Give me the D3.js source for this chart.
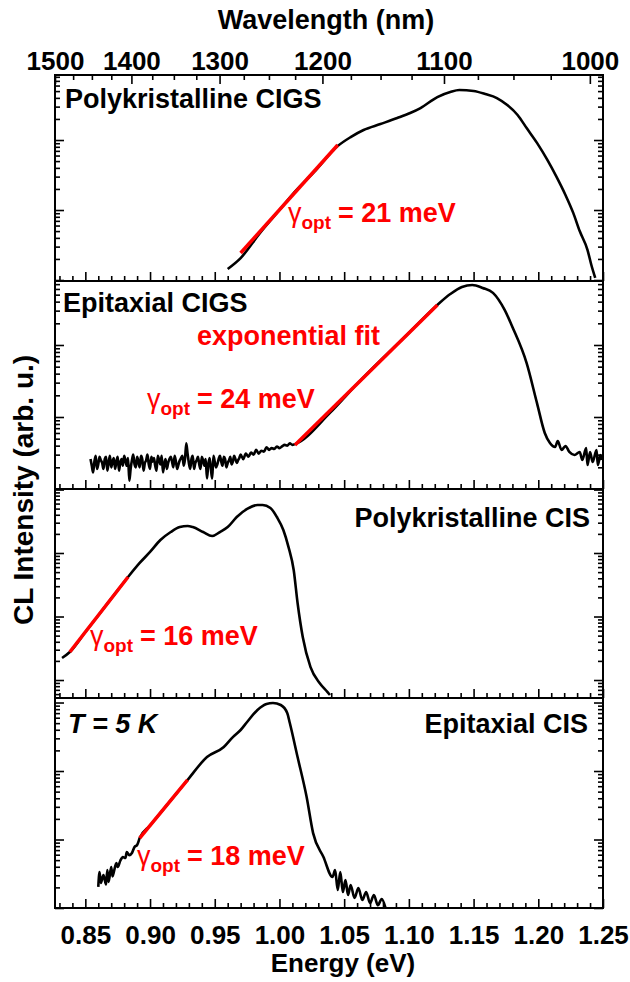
<!DOCTYPE html>
<html><head><meta charset="utf-8">
<script src="https://cdn.jsdelivr.net/npm/d3@7"></script>
<style>
body{margin:0;background:#fff}
svg text{font-family:"Liberation Sans",Arial,sans-serif;font-weight:bold}
</style></head><body>
<svg id="c" width="630" height="982"></svg>
<script>
// ---------------- DATA ----------------
const HC = 1239.84; // eV*nm
const energyMajorTicks = [0.85,0.90,0.95,1.00,1.05,1.10,1.15,1.20,1.25];
const wavelengthMajorTicks = [1500,1400,1300,1200,1100,1000];
const wavelengthMinorTicks = [1475,1450,1425,1375,1350,1325,1275,1250,1225,1175,1150,1125,1075,1050,1025];
const panelNames = ["Polykristalline CIGS","Epitaxial CIGS","Polykristalline CIS","Epitaxial CIS"];
const gammaValues = ["21","24","16","18"];

// [energy eV, CL intensity arb. u.]
const polyCigs = [
 [0.960,1.44],[0.970,2.06],[0.985,4.7],[1.000,10],[1.011,17.5],[1.028,37],[1.045,82],
 [1.055,110],[1.065,139],[1.078,169],[1.091,206],[1.101,243],[1.109,286],[1.122,411],
 [1.132,485],[1.139,518],[1.150,501],[1.159,454],[1.168,398],[1.176,316],[1.184,228],
 [1.191,148],[1.199,91],[1.207,52],[1.214,30],[1.221,16.4],[1.227,9.1],[1.232,5.0],
 [1.238,2.7],[1.241,1.64],[1.244,1.07]
];
const epiCigs = [
 [0.854,2.6],[0.856,1.7],[0.858,2.9],[0.860,2.2],[0.862,2.5],[0.864,1.9],[0.866,2.8],[0.868,2.3],
 [0.870,2.0],[0.872,2.7],[0.874,2.4],[0.876,1.8],[0.878,2.6],[0.880,2.9],[0.882,2.1],[0.884,1.3],
 [0.886,2.5],[0.888,2.2],[0.890,2.8],[0.892,2.0],[0.894,2.6],[0.896,2.3],[0.898,3.0],[0.900,1.9],
 [0.902,2.4],[0.904,2.1],[0.906,2.9],[0.908,2.2],[0.910,1.7],[0.912,2.6],[0.914,2.3],[0.916,2.8],
 [0.918,2.0],[0.920,2.4],[0.922,2.2],[0.924,2.7],[0.926,2.1],[0.928,4.3],[0.930,2.3],[0.932,2.6],
 [0.934,1.9],[0.936,2.5],[0.938,2.2],[0.940,2.8],[0.942,2.1],[0.944,1.4],[0.946,2.7],[0.948,1.4],
 [0.950,2.4],[0.952,2.2],[0.954,2.9],[0.956,2.1],[0.958,2.6],[0.960,2.3],[0.962,2.8],[0.964,2.4],
 [0.966,2.6],[0.968,2.5],[0.970,3.0],[0.972,2.6],[0.974,3.1],[0.976,2.8],[0.978,3.2],[0.980,3.0],
 [0.982,3.5],[0.984,3.1],[0.986,3.4],[0.988,3.3],[0.990,3.8],[0.992,3.5],[0.994,3.7],[0.996,3.6],
 [0.998,3.9],[1.000,3.7],[1.002,3.9],[1.004,4.1],[1.006,4.0],[1.008,4.3],[1.010,4.1],[1.012,4.2],
 [1.039,11.4],[1.060,28.8],[1.080,66],[1.100,147],[1.122,360],[1.132,510],[1.141,640],[1.149,681],
 [1.157,620],[1.165,530],[1.174,307],[1.180,178],[1.191,56],[1.199,15.6],[1.205,6.0],[1.209,4.35],
 [1.213,3.83],[1.215,4.64],[1.218,3.48],[1.221,3.96],[1.224,3.27],[1.228,2.97],[1.232,3.27],
 [1.234,2.53],[1.237,3.71],[1.238,2.15],[1.240,3.27],[1.242,2.37],[1.245,3.48],[1.246,2.15],
 [1.248,2.97],[1.249,2.53]
];
const epiCigsNoiseOdd = [
 [0.855,2.1],[0.857,2.4],[0.859,1.9],[0.861,2.8],[0.863,2.3],[0.865,2.6],[0.867,1.8],[0.869,2.9],
 [0.871,2.4],[0.873,1.9],[0.875,2.8],[0.877,2.3],[0.879,2.1],[0.881,2.5],[0.883,2.7],[0.885,1.9],
 [0.887,3.0],[0.889,2.0],[0.891,2.4],[0.893,2.9],[0.895,1.8],[0.897,2.5],[0.899,2.2],[0.901,2.8],
 [0.903,2.7],[0.905,1.8],[0.907,2.5],[0.909,2.9],[0.911,2.2],[0.913,1.9],[0.915,2.6],[0.917,2.4],
 [0.919,2.9],[0.921,1.9],[0.923,2.5],[0.925,2.9],[0.927,2.6],[0.929,3.1],[0.931,1.9],[0.933,2.9],
 [0.935,2.3],[0.937,2.8],[0.939,1.9],[0.941,2.5],[0.943,2.6],[0.945,2.2],[0.947,1.9],[0.949,2.9],
 [0.951,2.0],[0.953,2.6],[0.955,2.4],[0.957,2.8],[0.959,2.0],[0.961,2.5],[0.963,2.2],[0.965,2.9],
 [0.967,2.3],[0.969,2.7]
];
const polyCis = [
 [0.832,2.22],[0.838,2.76],[0.850,5.7],[0.860,10.4],[0.870,19.1],[0.883,41.9],[0.892,69.7],
 [0.900,104],[0.908,160],[0.916,214],[0.923,256],[0.929,266],[0.933,256],[0.941,214],[0.948,185],
 [0.954,214],[0.960,256],[0.967,369],[0.975,493],[0.983,570],[0.987,570],[0.993,512],[0.998,369],
 [1.003,230],[1.007,124],[1.011,54],[1.014,16.3],[1.018,4.75],[1.024,1.6],[1.031,0.90],[1.037,0.65],[1.039,0.58]
];
const epiCis = [
 [0.860,2.03],[0.861,3.35],[0.862,2.32],[0.864,3.03],[0.866,2.2],[0.867,3.59],[0.868,2.40],
 [0.870,3.97],[0.871,2.9],[0.872,3.35],[0.874,4.54],[0.875,3.97],[0.877,4.9],[0.879,5.55],
 [0.881,5.37],[0.882,6.57],[0.884,5.9],[0.886,6.35],[0.888,7.77],[0.890,8.31],[0.892,10.5],
 [0.900,16.0],[0.910,27.1],[0.920,46],[0.929,74],[0.944,160],[0.957,224],[0.964,313],[0.970,397],
 [0.975,519],[0.983,778],[0.990,951],[0.995,984],[1.001,920],[1.006,703],[1.008,502],[1.014,160],
 [1.021,41.7],[1.026,12.4],[1.034,5.55],[1.041,2.84],[1.043,3.59],[1.045,1.83],[1.047,3.35],[1.049,1.71],
 [1.051,2.56],[1.053,1.55],[1.055,2.17],[1.058,1.40],[1.061,1.96],[1.064,1.31],[1.067,1.71],
 [1.070,1.18],[1.073,1.55],[1.076,1.1],[1.079,1.35],[1.082,1.0]
];
// exponential fit segments [energy, intensity]
const fitPolyCigs = [[0.970,2.43],[1.045,85]];
const fitEpiCigs  = [[1.012,4.08],[1.122,360]];
const fitPolyCis  = [[0.838,2.76],[0.883,41.9]];
const fitEpiCis   = [[0.892,10.5],[0.929,74]];

// ---------------- LAYOUT ----------------
const svg = d3.select("#c");
const L = 55, R = 603;
const x = d3.scaleLinear().domain([HC/1500, 1.25]).range([L, R]);
const bounds = [75, 281, 489, 698, 908];
const epiCigsAll = d3.sort(epiCigs.concat(epiCigsNoiseOdd), d => d[0]);
const panels = [
 {data: polyCigs, fit: fitPolyCigs, domain:[0.968, 849], name: panelNames[0], nameX:65, nameY:108, anchor:"start",
  g: gammaValues[0], gx:288, gy:222},
 {data: epiCigsAll, fit: fitEpiCigs, domain:[1, 774], name: panelNames[1], nameX:63, nameY:312, anchor:"start",
  g: gammaValues[1], gx:147, gy:408},
 {data: polyCis, fit: fitPolyCis, domain:[0.521, 1018], name: panelNames[2], nameX:590, nameY:527, anchor:"end",
  g: gammaValues[2], gx:90, gy:645},
 {data: epiCis, fit: fitEpiCis, domain:[1, 1164], name: panelNames[3], nameX:588, nameY:733, anchor:"end",
  g: gammaValues[3], gx:137, gy:865}
];
const isDecade = v => Math.abs(Math.log10(v) - Math.round(Math.log10(v))) < 1e-6;
const styleAxis = sel => { sel.select(".domain").remove(); sel.selectAll("line").attr("stroke","#000").attr("stroke-width",1.6); };

panels.forEach((p, i) => {
  const top = bounds[i], bottom = bounds[i+1];
  const y = d3.scaleLog().domain(p.domain).range([bottom, top]);
  const g = svg.append("g");
  const cid = "clip" + i;
  svg.append("clipPath").attr("id", cid).append("rect").attr("x", L).attr("y", top).attr("width", R-L).attr("height", bottom-top);

  const yt = y.ticks();
  const yMaj = yt.filter(isDecade), yMin = yt.filter(v => !isDecade(v));
  g.append("g").attr("transform",`translate(${L},0)`).call(d3.axisLeft(y).tickValues(yMaj).tickSize(-9).tickFormat("")).call(styleAxis);
  g.append("g").attr("transform",`translate(${L},0)`).call(d3.axisLeft(y).tickValues(yMin).tickSize(-5).tickFormat("")).call(styleAxis);
  g.append("g").attr("transform",`translate(${R},0)`).call(d3.axisRight(y).tickValues(yMaj).tickSize(-9).tickFormat("")).call(styleAxis);
  g.append("g").attr("transform",`translate(${R},0)`).call(d3.axisRight(y).tickValues(yMin).tickSize(-5).tickFormat("")).call(styleAxis);

  const last = i === panels.length - 1;
  const xb = g.append("g").attr("transform",`translate(0,${bottom})`)
    .call(d3.axisBottom(x).tickValues(energyMajorTicks).tickSize(-9).tickPadding(18)
      .tickFormat(last ? d3.format(".2f") : ""))
    .call(styleAxis);
  xb.selectAll("text").attr("font-size",26).attr("fill","#000").attr("font-family",null);
  g.append("g").attr("transform",`translate(0,${bottom})`)
    .call(d3.axisBottom(x).tickValues(x.ticks(42).filter(v => !energyMajorTicks.some(m => Math.abs(m-v)<1e-6))).tickSize(-5).tickFormat(""))
    .call(styleAxis);

  // data
  const line = d3.line().x(d => x(d[0])).y(d => y(d[1])).curve(d3.curveMonotoneX);
  g.append("path").attr("clip-path",`url(#${cid})`).attr("d", line(p.data))
    .attr("fill","none").attr("stroke","#000").attr("stroke-width",2.6).attr("stroke-linejoin","round");
  g.append("path").attr("d", d3.line().x(d => x(d[0])).y(d => y(d[1]))(p.fit))
    .attr("fill","none").attr("stroke","#ff0000").attr("stroke-width",3.5);

  g.append("rect").attr("x", L).attr("y", top).attr("width", R-L).attr("height", bottom-top)
    .attr("fill","none").attr("stroke","#000").attr("stroke-width",2);

  // labels
  g.append("text").attr("x", p.nameX).attr("y", p.nameY).attr("text-anchor", p.anchor)
    .attr("font-size", 27).text(p.name);
  const gt = g.append("text").attr("x", p.gx).attr("y", p.gy).attr("fill","#ff0000").attr("font-size",27);
  gt.append("tspan").attr("font-weight","normal").text("γ");
  gt.append("tspan").attr("font-size",19).attr("dy",7).text("opt");
  gt.append("tspan").attr("dy",-7).attr("dx",7).text("= " + p.g + " meV");
});

// extra annotations
svg.append("text").attr("x",197).attr("y",345).attr("fill","#ff0000").attr("font-size",27).text("exponential fit");
svg.append("text").attr("x",68).attr("y",733).attr("font-size",27).attr("font-style","italic").text("T = 5 K");

// top wavelength axis
const xt = svg.append("g").attr("transform",`translate(0,${bounds[0]})`)
  .call(d3.axisTop(x).tickValues(wavelengthMajorTicks.map(l => HC/l)).tickSize(-9).tickPadding(5)
    .tickFormat(e => Math.round(HC/e)))
  .call(styleAxis);
xt.selectAll("text").attr("font-size",26).attr("fill","#000").attr("font-family",null);
svg.append("g").attr("transform",`translate(0,${bounds[0]})`)
  .call(d3.axisTop(x).tickValues(wavelengthMinorTicks.map(l => HC/l)).tickSize(-5).tickFormat(""))
  .call(styleAxis);

// axis titles
svg.append("text").attr("x",326).attr("y",29).attr("text-anchor","middle").attr("font-size",27).text("Wavelength (nm)");
svg.append("text").attr("x",343).attr("y",972).attr("text-anchor","middle").attr("font-size",26).text("Energy (eV)");
svg.append("text").attr("transform","translate(33,490) rotate(-90)").attr("text-anchor","middle").attr("font-size",28).text("CL Intensity (arb. u.)");
</script>
</body></html>
